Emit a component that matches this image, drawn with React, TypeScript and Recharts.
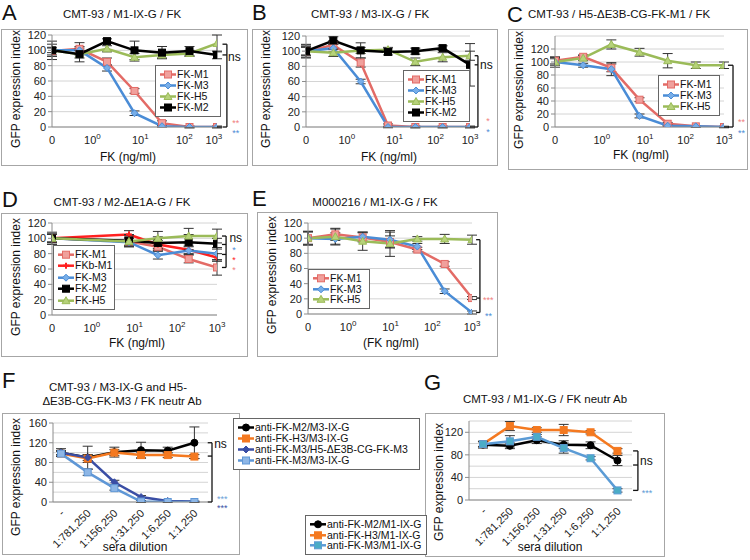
import React from 'react';
import {
  LineChart,
  Line,
  XAxis,
  YAxis,
  CartesianGrid,
  ErrorBar,
  ReferenceLine,
  ReferenceDot
} from 'recharts';

const FONT = '"Liberation Sans", Arial, sans-serif';

// ---- data: dose panels (x = dilution step index) ----
const doseSteps = [0, 1, 2, 3, 4, 5, 6];
const doseStepsD = [0, 2.8, 3.85, 4.97, 6];
const doseTickLabels = ['0', '10^0', '10^1', '10^2', '10^3'];

const aM1 = [99, 102, 85, 47, 5, 0, 0];
const aM1Err = [5, 8, 5, 3, 3, 1, 1];
const aM3 = [100, 100, 77, 18, 1, 0, 0];
const aM3Err = [3, 3, 4, 3, 1, 1, 1];
const aH5 = [100, 95, 102, 91, 94, 96, 109];
const aH5Err = [8, 5, 4, 5, 4, 4, 11];
const aM2 = [100, 95, 112, 100, 97, 99, 94];
const aM2Err = [12, 10, 3, 12, 8, 6, 5];

const bM1 = [100, 108, 85, 2, 0, 0, 0];
const bM1Err = [8, 6, 6, 2, 1, 1, 1];
const bM3 = [100, 104, 60, 0, 0, 0, 0];
const bM3Err = [5, 5, 3, 1, 1, 1, 1];
const bH5 = [100, 98, 101, 102, 86, 92, 94];
const bH5Err = [6, 5, 4, 3, 5, 6, 6];
const bM2 = [100, 114, 101, 99, 100, 104, 82];
const bM2Err = [9, 5, 10, 4, 4, 3, 28];

const cM1 = [102, 108, 91, 42, 5, 1, 0];
const cM1Err = [5, 3, 6, 3, 2, 1, 1];
const cM3 = [100, 95, 89, 17, 2, 1, 0];
const cM3Err = [8, 3, 10, 3, 1, 1, 1];
const cH5 = [100, 106, 127, 115, 102, 95, 95];
const cH5Err = [5, 4, 7, 6, 11, 5, 5];

const dM1 = [100, 96, 89, 73, 62];
const dM1Err = [6, 5, 5, 5, 10];
const dFKb = [100, 105, 92, 85, 75];
const dFKbErr = [5, 5, 5, 5, 5];
const dM3 = [100, 95, 78, 84, 80];
const dM3Err = [5, 5, 5, 5, 8];
const dM2 = [100, 97, 94, 95, 93];
const dM2Err = [8, 8, 8, 10, 7];
const dH5 = [100, 96, 100, 103, 103];
const dH5Err = [5, 7, 9, 10, 9];

const eM1 = [100, 105, 101, 95, 85, 66, 21];
const eM1Err = [9, 8, 6, 8, 3, 3, 2];
const eM3 = [100, 99, 102, 98, 89, 30, 2];
const eM3Err = [8, 8, 6, 10, 4, 3, 2];
const eH5 = [100, 102, 96, 93, 99, 99, 98];
const eH5Err = [9, 10, 12, 17, 3, 6, 6];

// ---- data: sera dilution panels ----
const seraSteps = [0, 1, 2, 3, 4, 5];
const seraLabels = ['-', '1:781,250', '1:156,250', '1:31,250', '1:6,250', '1:1,250'];

const fM2 = [100, 90, 101, 105, 104, 120];
const fM2Err = [8, 23, 10, 16, 7, 32];
const fH3 = [98, 88, 100, 95, 95, 92];
const fH3Err = [5, 8, 6, 6, 5, 4];
const fM3H5 = [100, 90, 40, 10, 2, 1];
const fM3H5Err = [4, 6, 4, 3, 1, 1];
const fM3 = [98, 60, 28, 1, 0, 0];
const fM3Err = [5, 6, 4, 2, 1, 1];

const gM2 = [98, 96, 106, 98, 97, 70];
const gM2Err = [6, 5, 6, 7, 6, 9];
const gH3 = [99, 131, 124, 124, 120, 87];
const gH3Err = [4, 8, 4, 10, 3, 4];
const gM3 = [99, 104, 112, 92, 74, 17];
const gM3Err = [5, 10, 4, 9, 3, 3];

// ---- styles ----
type Sty = { color: string; fill: string; shape: string; size: number };
const M1: Sty = { color: '#e36b66', fill: '#f0a09c', shape: 'square', size: 7 };
const M3: Sty = { color: '#4a8cd6', fill: '#78aee8', shape: 'diamond', size: 5 };
const H5: Sty = { color: '#9bbb59', fill: '#b6d27a', shape: 'triangle', size: 6 };
const M2: Sty = { color: '#000000', fill: '#000000', shape: 'square', size: 7 };
const FKB: Sty = { color: '#ff2020', fill: '#ff2020', shape: 'plus', size: 6 };
const AB_M2: Sty = { color: '#000000', fill: '#000000', shape: 'circle', size: 7 };
const AB_H3: Sty = { color: '#f47920', fill: '#f47920', shape: 'square', size: 7 };
const AB_M3H5: Sty = { color: '#3a4ea5', fill: '#3a4ea5', shape: 'diamond', size: 5 };
const AB_M3: Sty = { color: '#5f97d6', fill: '#8db6e6', shape: 'square', size: 7 };
const AB_M3G: Sty = { color: '#5b9bd5', fill: '#4bacc6', shape: 'square', size: 7 };

const RED_STAR = '#f08080';
const BLUE_STAR = '#4a8cd6';

type Ser = { name: string; values: number[]; errors: number[]; sty: Sty };

function Marker({ cx, cy, sty }: { cx: number; cy: number; sty: Sty }) {
  if (cx == null || cy == null) return null;
  const s = sty.size / 2;
  if (sty.shape === 'square') {
    return <rect x={cx - s} y={cy - s} width={sty.size} height={sty.size} fill={sty.fill} stroke={sty.color} strokeWidth={1} />;
  }
  if (sty.shape === 'diamond') {
    const d = s + 1;
    return <polygon points={`${cx},${cy - d} ${cx + d},${cy} ${cx},${cy + d} ${cx - d},${cy}`} fill={sty.fill} stroke={sty.color} strokeWidth={1} />;
  }
  if (sty.shape === 'triangle') {
    const d = s + 1;
    return <polygon points={`${cx},${cy - d} ${cx + d},${cy + s} ${cx - d},${cy + s}`} fill={sty.fill} stroke={sty.color} strokeWidth={1} />;
  }
  if (sty.shape === 'plus') {
    return (
      <g stroke={sty.color} strokeWidth={2}>
        <line x1={cx - s} x2={cx + s} y1={cy} y2={cy} />
        <line x1={cx} x2={cx} y1={cy - s} y2={cy + s} />
      </g>
    );
  }
  return <circle cx={cx} cy={cy} r={s} fill={sty.fill} stroke={sty.color} strokeWidth={1} />;
}

const dotFor = (sty: Sty) => (props: any) => <Marker key={props.index} cx={props.cx} cy={props.cy} sty={sty} />;

const doseTick = (labels: string[]) => (props: any) => {
  const { x, y, index } = props;
  const [base, exp] = labels[index].split('^');
  return (
    <text x={x} y={y + 17} textAnchor="middle" fontSize={11} fill="#222">
      {base}
      {exp !== undefined && <tspan dy={-5} fontSize={8}>{exp}</tspan>}
    </text>
  );
};

const seraTick = (labels: string[]) => (props: any) => {
  const { x, y, index } = props;
  const ax = x + 4;
  const ay = y + 12;
  return (
    <text x={ax} y={ay} textAnchor="end" fontSize={11} fill="#222" transform={`rotate(-45 ${ax} ${ay})`}>
      {labels[index]}
    </text>
  );
};

type Mark = { x: number; y: number; t: string; c: string };

interface PanelProps {
  box: { x: number; y: number; w: number; h: number };
  plot: { left: number; right: number; top: number; bottom: number };
  xs: number[];
  xDomain: [number, number];
  yDomain: [number, number];
  yTicks: number[];
  grid: number[];
  series: Ser[];
  xTickPos: number[];
  xTickLabels: string[];
  sera?: boolean;
  lines: number[][];
  marks: Mark[];
}

function Panel(p: PanelProps) {
  const { box, plot } = p;
  const rows = p.xs.map((x, i) => {
    const r: any = { x };
    p.series.forEach((s, k) => {
      r['v' + k] = s.values[i];
      r['e' + k] = s.errors[i];
    });
    return r;
  });
  const yAxisW = plot.left - box.x - 1;
  const xAxisH = box.y + box.h - plot.bottom - 1;
  return (
    <div style={{ position: 'absolute', left: box.x, top: box.y }}>
      <LineChart
        width={box.w}
        height={box.h}
        data={rows}
        margin={{ top: plot.top - box.y, right: box.x + box.w - plot.right, bottom: 1, left: 1 }}
      >
        <CartesianGrid vertical={false} stroke="#d4d4d4" horizontalValues={p.grid} />
        <XAxis
          type="number"
          dataKey="x"
          domain={p.xDomain}
          ticks={p.xTickPos}
          interval={0}
          tickSize={0}
          tickMargin={0}
          height={xAxisH}
          axisLine={{ stroke: '#8c8c8c' }}
          tick={p.sera ? seraTick(p.xTickLabels) : doseTick(p.xTickLabels)}
          allowDataOverflow
        />
        <YAxis
          type="number"
          domain={p.yDomain}
          ticks={p.yTicks}
          interval={0}
          width={yAxisW}
          tickSize={4}
          tickMargin={2}
          axisLine={{ stroke: '#8c8c8c' }}
          tickLine={{ stroke: '#8c8c8c' }}
          tick={{ fontSize: 11, fill: '#222' }}
          allowDataOverflow
        />
        {p.series.map((s, k) => (
          <Line
            key={s.name}
            dataKey={'v' + k}
            stroke={s.sty.color}
            strokeWidth={2.5}
            dot={dotFor(s.sty)}
            activeDot={false}
            isAnimationActive={false}
          >
            <ErrorBar dataKey={'e' + k} width={5} stroke="#333" strokeWidth={1} direction="y" />
          </Line>
        ))}
        {p.lines.map((l, i) => (
          <ReferenceLine
            key={'l' + i}
            segment={[{ x: l[0], y: l[1] }, { x: l[2], y: l[3] }]}
            stroke="#111"
            strokeWidth={1.3}
            ifOverflow="visible"
          />
        ))}
        {p.marks.map((m, i) => (
          <ReferenceDot
            key={'m' + i}
            x={m.x}
            y={m.y}
            r={0}
            ifOverflow="visible"
            shape={(d: any) => (
              <text
                x={d.cx}
                y={d.cy + (m.t === 'ns' ? 4 : 5)}
                fill={m.c}
                fontSize={m.t === 'ns' ? 12 : 9}
              >
                {m.t}
              </text>
            )}
          />
        ))}
      </LineChart>
    </div>
  );
}

function LegendBox({ x, y, w, rowH, series }: { x: number; y: number; w: number; rowH: number; series: Ser[] }) {
  return (
    <div
      style={{
        position: 'absolute',
        left: x,
        top: y,
        width: w,
        border: '1px solid #666',
        background: '#fff',
        padding: '3px 0 3px 4px',
        boxSizing: 'border-box',
        fontSize: 10.5,
        color: '#111'
      }}
    >
      {series.map((s) => (
        <div key={s.name} style={{ display: 'flex', alignItems: 'center', height: rowH, whiteSpace: 'nowrap' }}>
          <svg width={16} height={rowH} style={{ marginRight: 1, flex: 'none' }}>
            <line x1={0} x2={16} y1={rowH / 2} y2={rowH / 2} stroke={s.sty.color} strokeWidth={2.5} />
            <Marker cx={8} cy={rowH / 2} sty={s.sty} />
          </svg>
          <span style={{ lineHeight: rowH + 'px' }}>{s.name}</span>
        </div>
      ))}
    </div>
  );
}

const seriesA: Ser[] = [
  { name: 'FK-M1', values: aM1, errors: aM1Err, sty: M1 },
  { name: 'FK-M3', values: aM3, errors: aM3Err, sty: M3 },
  { name: 'FK-H5', values: aH5, errors: aH5Err, sty: H5 },
  { name: 'FK-M2', values: aM2, errors: aM2Err, sty: M2 }
];
const seriesB: Ser[] = [
  { name: 'FK-M1', values: bM1, errors: bM1Err, sty: M1 },
  { name: 'FK-M3', values: bM3, errors: bM3Err, sty: M3 },
  { name: 'FK-H5', values: bH5, errors: bH5Err, sty: H5 },
  { name: 'FK-M2', values: bM2, errors: bM2Err, sty: M2 }
];
const seriesC: Ser[] = [
  { name: 'FK-M1', values: cM1, errors: cM1Err, sty: M1 },
  { name: 'FK-M3', values: cM3, errors: cM3Err, sty: M3 },
  { name: 'FK-H5', values: cH5, errors: cH5Err, sty: H5 }
];
const seriesD: Ser[] = [
  { name: 'FK-M1', values: dM1, errors: dM1Err, sty: M1 },
  { name: 'FKb-M1', values: dFKb, errors: dFKbErr, sty: FKB },
  { name: 'FK-M3', values: dM3, errors: dM3Err, sty: M3 },
  { name: 'FK-M2', values: dM2, errors: dM2Err, sty: M2 },
  { name: 'FK-H5', values: dH5, errors: dH5Err, sty: H5 }
];
const seriesE: Ser[] = [
  { name: 'FK-M1', values: eM1, errors: eM1Err, sty: M1 },
  { name: 'FK-M3', values: eM3, errors: eM3Err, sty: M3 },
  { name: 'FK-H5', values: eH5, errors: eH5Err, sty: H5 }
];
const seriesF: Ser[] = [
  { name: 'anti-FK-M2/M3-IX-G', values: fM2, errors: fM2Err, sty: AB_M2 },
  { name: 'anti-FK-H3/M3-IX-G', values: fH3, errors: fH3Err, sty: AB_H3 },
  { name: 'anti-FK-M3/H5-ΔE3B-CG-FK-M3', values: fM3H5, errors: fM3H5Err, sty: AB_M3H5 },
  { name: 'anti-FK-M3/M3-IX-G', values: fM3, errors: fM3Err, sty: AB_M3 }
];
const seriesG: Ser[] = [
  { name: 'anti-FK-M2/M1-IX-G', values: gM2, errors: gM2Err, sty: AB_M2 },
  { name: 'anti-FK-H3/M1-IX-G', values: gH3, errors: gH3Err, sty: AB_H3 },
  { name: 'anti-FK-M3/M1-IX-G', values: gM3, errors: gM3Err, sty: AB_M3G }
];

const ticks120 = [0, 20, 40, 60, 80, 100, 120];
const ticks140 = [0, 20, 40, 60, 80, 100, 120, 140];
const ticks160 = [0, 20, 40, 60, 80, 100, 120, 140, 160];

const letters = [
  { t: 'A', x: 2, y: 20 },
  { t: 'B', x: 252, y: 20 },
  { t: 'C', x: 507, y: 22 },
  { t: 'D', x: 2, y: 207 },
  { t: 'E', x: 252, y: 206 },
  { t: 'F', x: 2, y: 388 },
  { t: 'G', x: 424, y: 390 }
];

const titles = [
  { t: 'CMT-93 / M1-IX-G / FK', x: 122, y: 18, a: 'middle' },
  { t: 'CMT-93 / M3-IX-G / FK', x: 370, y: 18, a: 'middle' },
  { t: 'CMT-93 / H5-ΔE3B-CG-FK-M1 / FK', x: 528, y: 18, a: 'start' },
  { t: 'CMT-93 / M2-ΔE1A-G / FK', x: 122, y: 206, a: 'middle' },
  { t: 'M000216 / M1-IX-G / FK', x: 375, y: 206, a: 'middle' },
  { t: 'CMT-93 / M3-IX-G and H5-', x: 118, y: 391, a: 'middle' },
  { t: 'ΔE3B-CG-FK-M3 / FK neutr Ab', x: 122, y: 405, a: 'middle' },
  { t: 'CMT-93 / M1-IX-G / FK neutr Ab', x: 545, y: 403, a: 'middle' }
];

const yTitles = [
  { x: 16, y: 89 },
  { x: 266, y: 89 },
  { x: 519, y: 90 },
  { x: 16, y: 277 },
  { x: 272, y: 275 },
  { x: 16, y: 477 },
  { x: 439, y: 482 }
];

const xTitles = [
  { t: 'FK (ng/ml)', x: 128, y: 157 },
  { t: 'FK (ng/ml)', x: 389, y: 157 },
  { t: 'FK (ng/ml)', x: 641, y: 155 },
  { t: 'FK (ng/ml)', x: 137, y: 343 },
  { t: '(FK ng/ml)', x: 391, y: 343 },
  { t: 'sera dilution', x: 135, y: 547 },
  { t: 'sera dilution', x: 550, y: 547 }
];

const boxes = [
  { x: 1, y: 29, w: 247, h: 137 },
  { x: 252, y: 29, w: 246, h: 137 },
  { x: 508, y: 29, w: 240, h: 141 },
  { x: 1, y: 213, w: 247, h: 144 },
  { x: 257, y: 212, w: 241, h: 145 },
  { x: 2, y: 413, w: 238, h: 142 },
  { x: 425, y: 413, w: 240, h: 144 }
];

export default function App() {
  return (
    <div
      style={{
        position: 'absolute',
        left: 0,
        top: 0,
        width: 750,
        height: 560,
        background: '#fff',
        fontFamily: FONT,
        overflow: 'hidden'
      }}
    >
      {boxes.map((b, i) => (
        <div
          key={i}
          style={{
            position: 'absolute',
            left: b.x,
            top: b.y,
            width: b.w,
            height: b.h,
            border: '1px solid #a6a6a6',
            boxSizing: 'border-box'
          }}
        />
      ))}
      <svg width={750} height={560} style={{ position: 'absolute', left: 0, top: 0 }}>
        {letters.map((l) => (
          <text key={l.t} x={l.x} y={l.y} fontSize={22} fill="#111">
            {l.t}
          </text>
        ))}
        {titles.map((t) => (
          <text key={t.t} x={t.x} y={t.y} fontSize={11.5} fill="#111" textAnchor={t.a as any}>
            {t.t}
          </text>
        ))}
        {yTitles.map((t, i) => (
          <text
            key={i}
            x={t.x}
            y={t.y}
            fontSize={12}
            fill="#111"
            textAnchor="middle"
            dominantBaseline="central"
            transform={`rotate(-90 ${t.x} ${t.y})`}
          >
            GFP expression index
          </text>
        ))}
        {xTitles.map((t, i) => (
          <text key={i} x={t.x} y={t.y + 4} fontSize={12} fill="#111" textAnchor="middle">
            {t.t}
          </text>
        ))}
      </svg>

      <Panel
        box={boxes[0]}
        plot={{ left: 52, right: 217, top: 35, bottom: 127 }}
        xs={doseSteps}
        xDomain={[0, 6]}
        yDomain={[0, 120]}
        yTicks={ticks120}
        grid={ticks120}
        series={seriesA}
        xTickPos={[0, 1.47, 3.21, 4.81, 5.89]}
        xTickLabels={doseTickLabels}
        lines={[[6.36, 108, 6.36, 0], [6.2, 108, 6.36, 108], [6.2, 94, 6.36, 94], [6.2, 0, 6.36, 0]]}
        marks={[
          { x: 6.4, y: 91, t: 'ns', c: '#111' },
          { x: 6.55, y: 8, t: '**', c: RED_STAR },
          { x: 6.55, y: -5, t: '**', c: BLUE_STAR }
        ]}
      />
      <Panel
        box={boxes[1]}
        plot={{ left: 306, right: 470, top: 36, bottom: 127 }}
        xs={doseSteps}
        xDomain={[0, 6]}
        yDomain={[0, 120]}
        yTicks={ticks120}
        grid={ticks120}
        series={seriesB}
        xTickPos={[0, 1.49, 3.24, 4.74, 6]}
        xTickLabels={doseTickLabels}
        lines={[[6.29, 94, 6.29, 0], [6.17, 94, 6.29, 94], [6.17, 82, 6.29, 82], [6.17, 0, 6.29, 0]]}
        marks={[
          { x: 6.37, y: 82, t: 'ns', c: '#111' },
          { x: 6.59, y: 10, t: '*', c: RED_STAR },
          { x: 6.59, y: -4, t: '*', c: BLUE_STAR }
        ]}
      />
      <Panel
        box={boxes[2]}
        plot={{ left: 555, right: 724, top: 36, bottom: 127 }}
        xs={doseSteps}
        xDomain={[0, 6]}
        yDomain={[0, 140]}
        yTicks={ticks120}
        grid={ticks140}
        series={seriesC}
        xTickPos={[0, 1.66, 3.2, 4.64, 6]}
        xTickLabels={doseTickLabels}
        lines={[[6.32, 95, 6.32, 0], [6.14, 95, 6.32, 95], [6.14, 0, 6.32, 0]]}
        marks={[
          { x: 6.5, y: 11, t: '**', c: RED_STAR },
          { x: 6.5, y: -6, t: '**', c: BLUE_STAR }
        ]}
      />
      <Panel
        box={boxes[3]}
        plot={{ left: 52, right: 217, top: 223, bottom: 315 }}
        xs={doseStepsD}
        xDomain={[0, 6]}
        yDomain={[0, 120]}
        yTicks={ticks120}
        grid={ticks120}
        series={seriesD}
        xTickPos={[0, 1.45, 3.0, 4.55, 6]}
        xTickLabels={doseTickLabels}
        lines={[
          [6.33, 103, 6.33, 62],
          [6.18, 103, 6.33, 103],
          [6.18, 92, 6.33, 92],
          [6.18, 79, 6.33, 79],
          [6.18, 62, 6.33, 62]
        ]}
        marks={[
          { x: 6.45, y: 101, t: 'ns', c: '#111' },
          { x: 6.55, y: 87, t: '*', c: BLUE_STAR },
          { x: 6.55, y: 74, t: '*', c: '#ff2020' },
          { x: 6.55, y: 61, t: '*', c: RED_STAR }
        ]}
      />
      <Panel
        box={boxes[4]}
        plot={{ left: 308, right: 472, top: 223, bottom: 314 }}
        xs={doseSteps}
        xDomain={[0, 6]}
        yDomain={[0, 120]}
        yTicks={ticks120}
        grid={ticks120}
        series={seriesE}
        xTickPos={[0, 1.47, 3.02, 4.55, 6]}
        xTickLabels={doseTickLabels}
        lines={[[6.29, 98, 6.29, 2], [6.15, 98, 6.29, 98], [6.15, 21, 6.29, 21], [6.15, 2, 6.29, 2]]}
        marks={[
          { x: 6.4, y: 21, t: '***', c: RED_STAR },
          { x: 6.48, y: 0, t: '**', c: BLUE_STAR }
        ]}
      />
      <Panel
        box={boxes[5]}
        plot={{ left: 53, right: 208, top: 423, bottom: 502 }}
        xs={seraSteps}
        xDomain={[-0.3, 5.51]}
        yDomain={[0, 160]}
        yTicks={[0, 40, 80, 120, 160]}
        grid={ticks160}
        series={seriesF}
        xTickPos={seraSteps}
        xTickLabels={seraLabels}
        sera
        lines={[[5.66, 120, 5.66, 0], [5.5, 120, 5.66, 120], [5.5, 93, 5.66, 93], [5.5, 0, 5.66, 0]]}
        marks={[
          { x: 5.74, y: 118, t: 'ns', c: '#111' },
          { x: 5.85, y: 10, t: '***', c: '#6a9fd8' },
          { x: 5.85, y: -9, t: '***', c: '#3a4ea5' }
        ]}
      />
      <Panel
        box={boxes[6]}
        plot={{ left: 469, right: 632, top: 421, bottom: 500 }}
        xs={seraSteps}
        xDomain={[-0.52, 5.54]}
        yDomain={[0, 140]}
        yTicks={[0, 40, 80, 120]}
        grid={ticks140}
        series={seriesG}
        xTickPos={seraSteps}
        xTickLabels={seraLabels}
        sera
        lines={[[5.76, 87, 5.76, 17], [5.58, 87, 5.76, 87], [5.58, 62, 5.76, 62], [5.58, 17, 5.76, 17]]}
        marks={[
          { x: 5.84, y: 69, t: 'ns', c: '#111' },
          { x: 5.9, y: 16, t: '***', c: '#5b9bd5' }
        ]}
      />

      <LegendBox x={155} y={65} w={66} rowH={11} series={seriesA} />
      <LegendBox x={403} y={70} w={67} rowH={11} series={seriesB} />
      <LegendBox x={658} y={75} w={62} rowH={11} series={seriesC} />
      <LegendBox x={53} y={245} w={62} rowH={11.4} series={seriesD} />
      <LegendBox x={308} y={269} w={62} rowH={10.6} series={seriesE} />
      <LegendBox x={233} y={418} w={187} rowH={11} series={seriesF} />
      <LegendBox x={305} y={515} w={122} rowH={10.6} series={seriesG} />
    </div>
  );
}
